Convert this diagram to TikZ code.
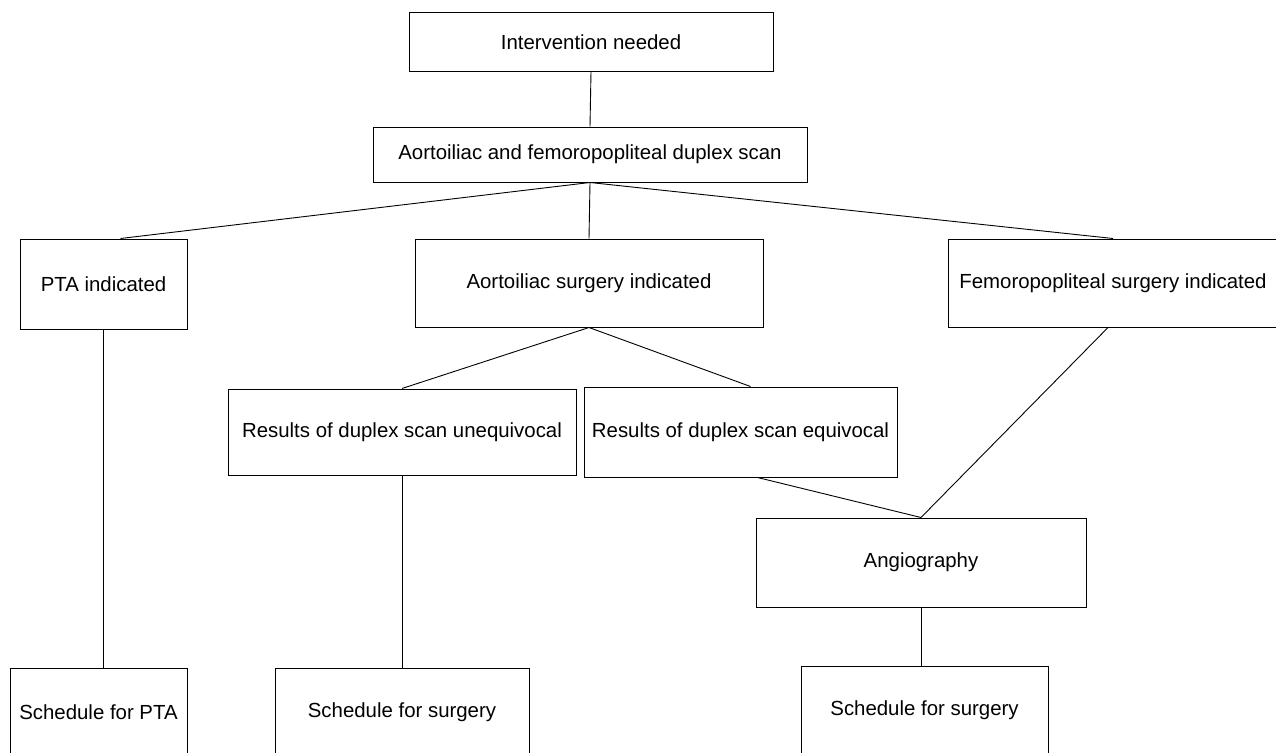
\documentclass[tikz,border=0pt]{standalone}
\usepackage{fontspec}
\setsansfont{Liberation Sans}
\usetikzlibrary{calc}
\usetikzlibrary{positioning}
\tikzset{every picture/.style={/utils/exec={\sffamily\fontsize{20.4}{24}\selectfont}}}
\tikzset{every node/.style={align=center},
         box/.style={ % Sets the properties for each box
           draw, line width=1pt, inner sep=0pt},
         link/.style={ % Plain connector, no arrow tip
           draw, line width=0.9pt}}
\begin{document}
\begin{tikzpicture}[x=1pt, y=-1pt]
  \useasboundingbox (0,0) rectangle (1276,752);

  % top of the tree
  \node [box, minimum width=364pt, minimum height=58pt] (intv) at (591,42) {Intervention needed};
  \node [box, minimum width=434pt, minimum height=55pt] (scan) at (590,154.5) {Aortoiliac and femoropopliteal duplex scan};

  % what the scan indicates
  \node [box, minimum width=167pt, minimum height=90pt] (pta) at (103.5,284) {PTA indicated};
  \node [box, minimum width=348pt, minimum height=88pt] (aorto) at (589,283) {Aortoiliac surgery indicated};
  \node [box, minimum width=330pt, minimum height=88pt] (femoro) at (1113,283) {Femoropopliteal surgery indicated};

  \node [box, minimum width=348pt, minimum height=86pt] (uneq) at (402,432) {Results of duplex scan unequivocal};
  \node [box, minimum width=313pt, minimum height=90pt] (equiv) at (740.5,432) {Results of duplex scan equivocal};
  \node [box, minimum width=330pt, minimum height=89pt] (angio) at (921,562.5) {Angiography};

  % schedules, cut by the bottom edge
  \node [box, minimum width=177pt, minimum height=89pt] (schedpta) at (98.5,712.5) {Schedule for PTA};
  \node [box, minimum width=254pt, minimum height=89pt] (schedsurg) at (402,712.5) {Schedule for surgery};
  \node [box, minimum width=247pt, minimum height=89pt] (schedangio) at (924.5,710.5) {Schedule for surgery};

  % connectors
  \draw [link] (intv.south) -- (scan.north);
  \draw [link] (scan.south) -- ([xshift=17pt]pta.north);
  \draw [link] (scan.south) -- (aorto.north);
  \draw [link] (scan.south) -- (femoro.north);

  \draw [link] (aorto.south) -- (uneq.north);
  \draw [link] (aorto.south) -- ([xshift=10pt]equiv.north);

  \draw [link] (pta.south) -- (pta.south |- schedpta.north);
  \draw [link] (uneq.south) -- (schedsurg.north);
  \draw [link] ([xshift=17pt]equiv.south) -- (angio.north);
  \draw [link] ([xshift=-5pt]femoro.south) -- (angio.north);
  \draw [link] (angio.south) -- (angio.south |- schedangio.north);

\end{tikzpicture}
\end{document}
